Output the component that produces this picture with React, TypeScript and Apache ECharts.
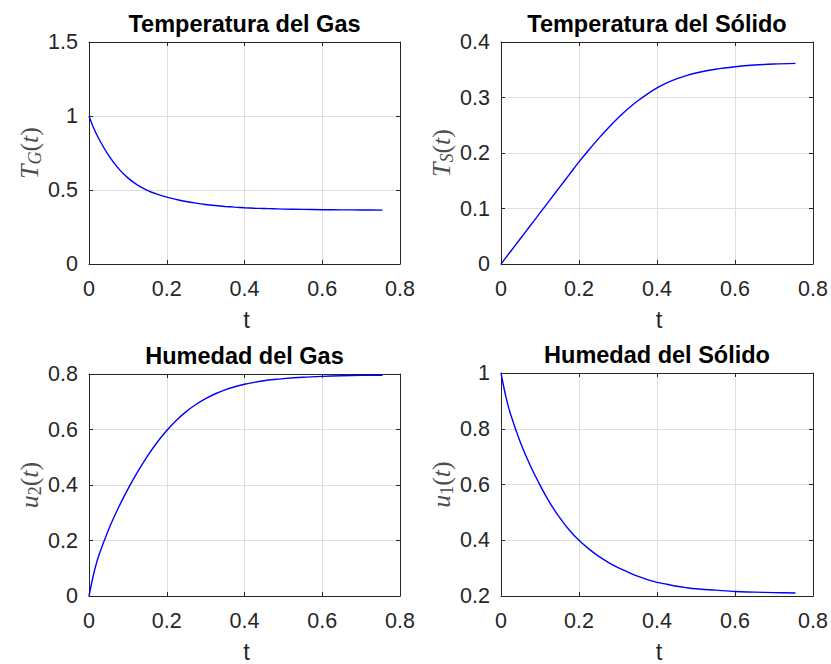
import React, { useEffect, useRef } from "react";
import * as echarts from "echarts";

// time samples (t)
const T = [0, 0.0125, 0.025, 0.05, 0.075, 0.1, 0.125, 0.15, 0.175, 0.2, 0.225, 0.25, 0.275, 0.3, 0.325, 0.35, 0.375, 0.4, 0.425, 0.45, 0.475, 0.5, 0.55, 0.6, 0.65, 0.7, 0.755];

// Temperatura del Gas  T_G(t)
const TG = [1.0, 0.915, 0.848, 0.735, 0.648, 0.582, 0.533, 0.498, 0.472, 0.452, 0.436, 0.422, 0.411, 0.402, 0.395, 0.389, 0.384, 0.38, 0.377, 0.375, 0.373, 0.371, 0.369, 0.367, 0.366, 0.365, 0.364];
// Temperatura del Sólido  T_S(t)
const TS = [0, 0.0115, 0.023, 0.046, 0.069, 0.092, 0.115, 0.138, 0.161, 0.184, 0.2055, 0.2259, 0.2451, 0.2631, 0.2794, 0.2937, 0.3062, 0.3172, 0.3264, 0.3337, 0.3395, 0.3442, 0.351, 0.3555, 0.3585, 0.3603, 0.3615];
// Humedad del Gas  u_2(t)
const U2 = [0, 0.082, 0.145, 0.238, 0.316, 0.385, 0.4475, 0.5035, 0.553, 0.5965, 0.6335, 0.6645, 0.69, 0.711, 0.7288, 0.7429, 0.7541, 0.763, 0.77, 0.7756, 0.78, 0.7835, 0.7885, 0.7916, 0.7936, 0.7949, 0.7957];
// Humedad del Sólido  u_1(t)
const U1 = [1.0, 0.915, 0.85, 0.75, 0.668, 0.598, 0.535, 0.482, 0.437, 0.4, 0.369, 0.343, 0.321, 0.302, 0.286, 0.271, 0.259, 0.249, 0.242, 0.235, 0.23, 0.226, 0.221, 0.216, 0.214, 0.212, 0.211];

const TITLES = ["Temperatura del Gas", "Temperatura del Sólido", "Humedad del Gas", "Humedad del Sólido"];
const Y_LABELS = [
  "{i|T}{s|G}{n|(}{i|t}{n|)}",
  "{i|T}{s|S}{n|(}{i|t}{n|)}",
  "{i|u}{d|2}{n|(}{i|t}{n|)}",
  "{i|u}{d|1}{n|(}{i|t}{n|)}",
];
const X_LABEL = "t";
const X_RANGE = [0, 0.8, 0.2];
const Y_RANGES = [
  [0, 1.5, 0.5],
  [0, 0.4, 0.1],
  [0, 0.8, 0.2],
  [0.2, 1, 0.2],
];
const SERIES = [TG, TS, U2, U1];

const BOXES = [
  { left: 89, top: 42, width: 311, height: 222 },
  { left: 501, top: 42, width: 312, height: 222 },
  { left: 89, top: 374, width: 311, height: 222 },
  { left: 501, top: 373, width: 312, height: 223 },
];

const SANS = '"Liberation Sans", Arial, Helvetica, sans-serif';
const SERIF = '"Liberation Serif", "Times New Roman", serif';
const AX = "#262626";
const GRID = "#dedede";
const YL = "#4d4d4d";

export default function App() {
  const ref = useRef<HTMLDivElement>(null);
  useEffect(() => {
    if (!ref.current) return;
    const chart = echarts.init(ref.current, undefined, { renderer: "svg" });
    const grids: any[] = [];
    const xAxes: any[] = [];
    const yAxes: any[] = [];
    const series: any[] = [];
    const graphic: any[] = [];

    BOXES.forEach((b, g) => {
      grids.push({ left: b.left, top: b.top, width: b.width, height: b.height, containLabel: false });
      const [ymin, ymax, ystep] = Y_RANGES[g];
      const line = { show: true, onZero: false, lineStyle: { color: AX, width: 1 } };
      const tick = { show: true, inside: true, length: 4, lineStyle: { color: AX, width: 1 } };
      xAxes.push({
        type: "value", gridIndex: g, position: "bottom",
        min: X_RANGE[0], max: X_RANGE[1], interval: X_RANGE[2],
        axisLine: line, axisTick: tick,
        axisLabel: { color: AX, fontSize: 21.5, fontFamily: SANS, margin: 14 },
        splitLine: { show: true, lineStyle: { color: GRID, width: 1 } },
      });
      xAxes.push({
        type: "value", gridIndex: g, position: "top",
        min: X_RANGE[0], max: X_RANGE[1], interval: X_RANGE[2],
        axisLine: line, axisTick: tick, axisLabel: { show: false }, splitLine: { show: false },
      });
      yAxes.push({
        type: "value", gridIndex: g, position: "left",
        min: ymin, max: ymax, interval: ystep,
        axisLine: line, axisTick: tick,
        axisLabel: { color: AX, fontSize: 21.5, fontFamily: SANS, margin: 11 },
        splitLine: { show: true, lineStyle: { color: GRID, width: 1 } },
      });
      yAxes.push({
        type: "value", gridIndex: g, position: "right",
        min: ymin, max: ymax, interval: ystep,
        axisLine: line, axisTick: tick, axisLabel: { show: false }, splitLine: { show: false },
      });
      const vals = SERIES[g];
      series.push({
        type: "line", xAxisIndex: 2 * g, yAxisIndex: 2 * g,
        data: T.map((t, i) => [t, vals[i]]),
        symbol: "none", showSymbol: false, smooth: 0.35,
        lineStyle: { color: "#0000ff", width: 1.4 },
      });
      const cx = b.left + b.width / 2;
      graphic.push({
        type: "text", x: cx, y: b.top - 18.5,
        style: { text: TITLES[g], font: `bold 23.5px ${SANS}`, fill: "#000", align: "center", verticalAlign: "middle" },
      });
      graphic.push({
        type: "text", x: cx + 2, y: b.top + b.height + 56,
        style: { text: X_LABEL, font: `23.5px ${SANS}`, fill: AX, align: "center", verticalAlign: "middle" },
      });
      graphic.push({
        type: "text", x: b.left - 60, y: b.top + b.height / 2, rotation: Math.PI / 2,
        style: {
          text: Y_LABELS[g], align: "center", verticalAlign: "middle", fill: YL,
          rich: {
            i: { fontFamily: SERIF, fontStyle: "italic", fontSize: 26, lineHeight: 30, fill: YL },
            n: { fontFamily: SERIF, fontSize: 26, lineHeight: 30, fill: YL },
            s: { fontFamily: SERIF, fontStyle: "italic", fontSize: 18, lineHeight: 18, verticalAlign: "bottom", fill: YL },
            d: { fontFamily: SERIF, fontSize: 18, lineHeight: 18, verticalAlign: "bottom", fill: YL },
          },
        },
      });
    });

    chart.setOption({
      animation: false,
      backgroundColor: "#ffffff",
      grid: grids,
      xAxis: xAxes,
      yAxis: yAxes,
      series,
      graphic,
    });
    return () => chart.dispose();
  }, []);
  return (
    <div
      ref={ref}
      style={{ position: "absolute", left: 0, top: 0, width: 831, height: 664, background: "#fff" }}
    />
  );
}
